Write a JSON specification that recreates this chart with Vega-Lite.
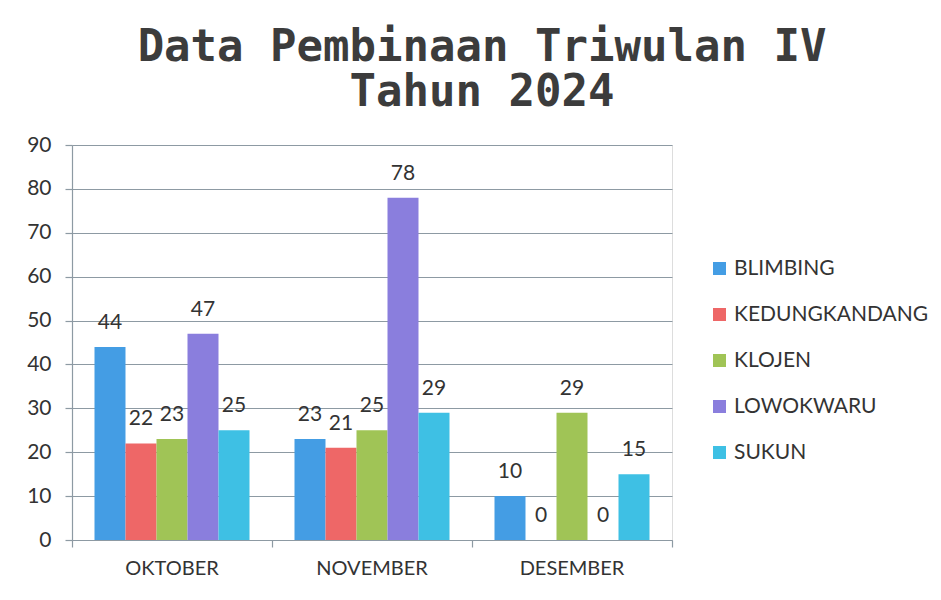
{
  "$schema": "https://vega.github.io/schema/vega-lite/v6.json",
  "width": 600,
  "height": 395,
  "autosize": "none",
  "padding": {"left": 72, "top": 145, "right": 269, "bottom": 60},
  "background": "white",
  "title": {
    "text": ["Data Pembinaan Triwulan IV", "Tahun 2024"],
    "font": "DejaVu Sans Mono",
    "fontSize": 44,
    "fontWeight": "bold",
    "color": "#3c3c3c",
    "lineHeight": 45,
    "anchor": "middle",
    "dx": 110,
    "offset": 19
  },
  "data": {
    "values": [
      {"bulan": "OKTOBER", "kecamatan": "BLIMBING", "jumlah": 44},
      {"bulan": "OKTOBER", "kecamatan": "KEDUNGKANDANG", "jumlah": 22},
      {"bulan": "OKTOBER", "kecamatan": "KLOJEN", "jumlah": 23},
      {"bulan": "OKTOBER", "kecamatan": "LOWOKWARU", "jumlah": 47},
      {"bulan": "OKTOBER", "kecamatan": "SUKUN", "jumlah": 25},
      {"bulan": "NOVEMBER", "kecamatan": "BLIMBING", "jumlah": 23},
      {"bulan": "NOVEMBER", "kecamatan": "KEDUNGKANDANG", "jumlah": 21},
      {"bulan": "NOVEMBER", "kecamatan": "KLOJEN", "jumlah": 25},
      {"bulan": "NOVEMBER", "kecamatan": "LOWOKWARU", "jumlah": 78},
      {"bulan": "NOVEMBER", "kecamatan": "SUKUN", "jumlah": 29},
      {"bulan": "DESEMBER", "kecamatan": "BLIMBING", "jumlah": 10},
      {"bulan": "DESEMBER", "kecamatan": "KEDUNGKANDANG", "jumlah": 0},
      {"bulan": "DESEMBER", "kecamatan": "KLOJEN", "jumlah": 29},
      {"bulan": "DESEMBER", "kecamatan": "LOWOKWARU", "jumlah": 0},
      {"bulan": "DESEMBER", "kecamatan": "SUKUN", "jumlah": 15}
    ]
  },
  "encoding": {
    "y": {
      "field": "jumlah",
      "type": "quantitative",
      "scale": {"domain": [0, 90], "nice": false},
      "axis": {
        "title": null,
        "values": [0, 10, 20, 30, 40, 50, 60, 70, 80, 90],
        "grid": true,
        "gridColor": "#8d9aa3",
        "gridWidth": 1.2,
        "domain": true,
        "domainColor": "#8d9aa3",
        "domainWidth": 1.2,
        "ticks": true,
        "tickSize": 7,
        "tickColor": "#8d9aa3",
        "tickWidth": 1.2,
        "labelFont": "Lato",
        "labelFontSize": 21,
        "labelColor": "#333333",
        "labelPadding": 14
      }
    },
    "xOffset": {
      "field": "kecamatan",
      "type": "nominal",
      "sort": ["BLIMBING", "KEDUNGKANDANG", "KLOJEN", "LOWOKWARU", "SUKUN"],
      "scale": {"paddingInner": 0, "paddingOuter": 0.7258}
    }
  },
  "layer": [
    {
      "mark": {"type": "bar"},
      "encoding": {
        "x": {
          "field": "bulan",
          "type": "nominal",
          "sort": ["OKTOBER", "NOVEMBER", "DESEMBER"],
          "scale": {"paddingInner": 0, "paddingOuter": 0},
          "axis": {
            "title": null,
            "orient": "bottom",
            "labelAngle": 0,
            "ticks": false,
            "domain": true,
            "domainColor": "#8d9aa3",
            "domainWidth": 1.2,
            "labelFont": "Lato",
            "labelFontSize": 20,
            "labelColor": "#333333",
            "labelPadding": 18
          }
        },
        "color": {
          "field": "kecamatan",
          "type": "nominal",
          "sort": ["BLIMBING", "KEDUNGKANDANG", "KLOJEN", "LOWOKWARU", "SUKUN"],
          "scale": {
            "domain": ["BLIMBING", "KEDUNGKANDANG", "KLOJEN", "LOWOKWARU", "SUKUN"],
            "range": ["#449de4", "#ee6767", "#a0c456", "#8a7edd", "#3ec0e4"]
          },
          "legend": {
            "title": null,
            "orient": "none",
            "legendX": 637,
            "legendY": 113,
            "symbolType": "square",
            "symbolSize": 169,
            "symbolStrokeWidth": 0,
            "labelFont": "Lato",
            "labelFontSize": 21,
            "labelColor": "#333333",
            "labelOffset": 4,
            "labelLimit": 400,
            "rowPadding": 24
          }
        }
      }
    },
    {
      "mark": {"type": "text", "baseline": "bottom", "dy": -14, "font": "Lato", "fontSize": 21, "color": "#333333"},
      "encoding": {
        "x": {
          "field": "bulan",
          "type": "nominal",
          "sort": ["OKTOBER", "NOVEMBER", "DESEMBER"],
          "axis": {
            "title": null,
            "orient": "bottom",
            "labels": false,
            "domain": false,
            "ticks": true,
            "tickSize": 7,
            "tickColor": "#8d9aa3",
            "tickWidth": 1.2,
            "bandPosition": 1,
            "tickExtra": true
          }
        },
        "text": {"field": "jumlah", "type": "quantitative"}
      }
    }
  ],
  "resolve": {"axis": {"x": "independent"}}
}
